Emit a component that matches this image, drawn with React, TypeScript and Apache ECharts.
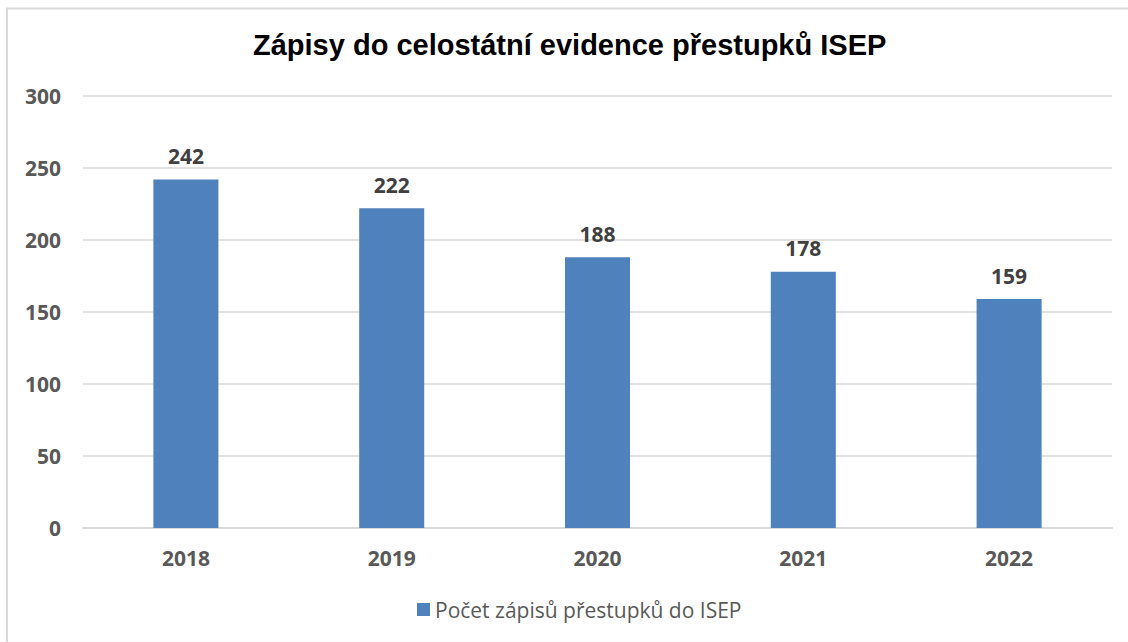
import React, { useEffect, useRef } from "react";
import * as echarts from "echarts";

const categories = ["2018", "2019", "2020", "2021", "2022"];
const values = [242, 222, 188, 178, 159];
const seriesName = "Počet zápisů přestupků do ISEP";
const titleText = "Zápisy do celostátní evidence přestupků ISEP";

export default function App() {
  const ref = useRef<HTMLDivElement>(null);
  useEffect(() => {
    if (!ref.current) return;
    const chart = echarts.init(ref.current, null, { renderer: "svg" });
    chart.setOption({
      animation: false,
      backgroundColor: "#ffffff",
      title: {
        text: titleText,
        left: 253,
        top: 30,
        padding: 0,
        textStyle: {
          fontFamily: "Liberation Sans, Arial, sans-serif",
          fontWeight: "bold",
          fontSize: 29,
          color: "#000000",
        },
      },
      graphic: [
        {
          type: "rect",
          shape: { x: 7, y: 8.5, width: 1140, height: 700 },
          style: { fill: "none", stroke: "#d9d9d9", lineWidth: 2 },
          silent: true,
        },
      ],
      legend: {
        bottom: 17,
        left: 412,
        itemWidth: 13,
        itemHeight: 13,
        itemGap: 8,
        icon: "rect",
        textStyle: {
          fontFamily: "Open Sans, sans-serif",
          fontSize: 21,
          color: "#595959",
        },
        data: [seriesName],
      },
      grid: { left: 83, right: 16, top: 96, bottom: 114, containLabel: false },
      xAxis: {
        type: "category",
        data: categories,
        axisLine: { show: true, lineStyle: { color: "#d9d9d9", width: 2 } },
        axisTick: { show: false },
        axisLabel: {
          margin: 19,
          fontFamily: "Open Sans, sans-serif",
          fontWeight: "bold",
          fontSize: 21,
          color: "#595959",
        },
      },
      yAxis: {
        type: "value",
        min: 0,
        max: 300,
        interval: 50,
        axisLine: { show: false },
        axisTick: { show: false },
        splitLine: { lineStyle: { color: "#d9d9d9", width: 1.5 } },
        axisLabel: {
          margin: 22,
          fontFamily: "Open Sans, sans-serif",
          fontWeight: "bold",
          fontSize: 21,
          color: "#595959",
        },
      },
      series: [
        {
          name: seriesName,
          type: "bar",
          data: values,
          barWidth: "31.6%",
          itemStyle: { color: "#4f81bd" },
          label: {
            show: true,
            position: "top",
            distance: 13,
            fontFamily: "Open Sans, sans-serif",
            fontWeight: "bold",
            fontSize: 21,
            color: "#404040",
          },
        },
      ],
    });
    return () => chart.dispose();
  }, []);
  return (
    <div
      ref={ref}
      style={{ position: "fixed", left: 0, top: 0, width: 1128, height: 642 }}
    />
  );
}
